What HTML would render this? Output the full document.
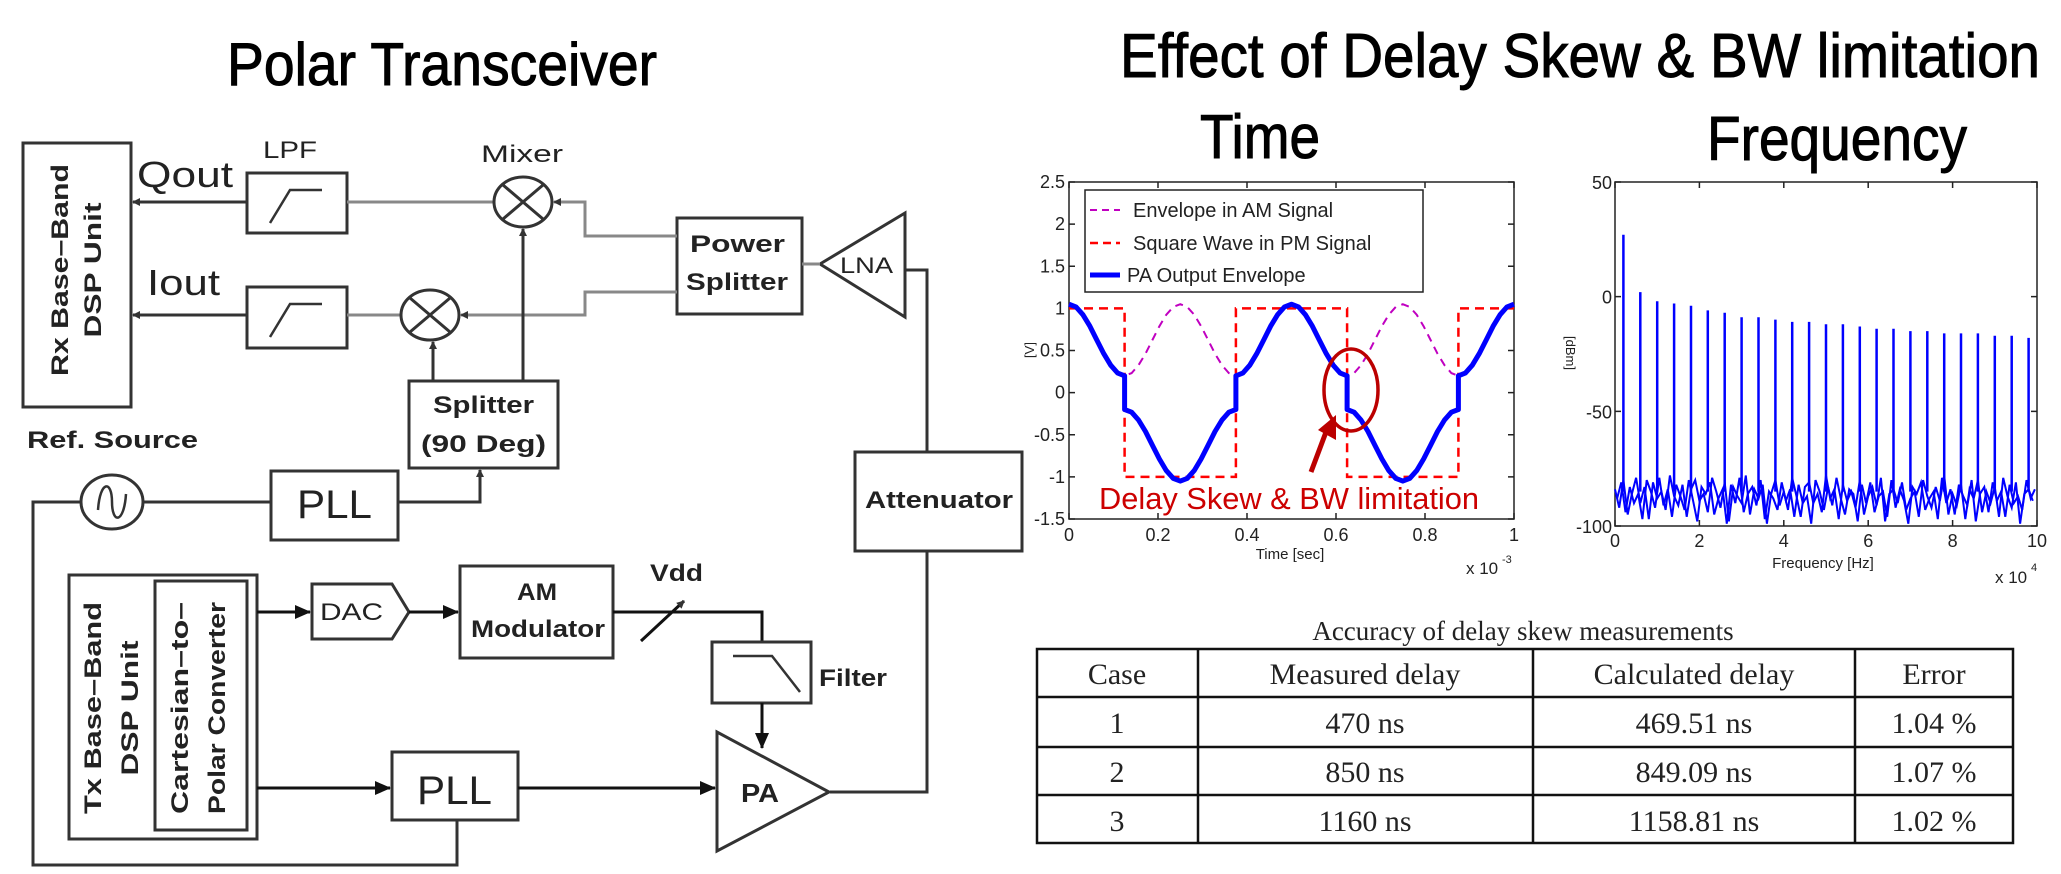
<!DOCTYPE html>
<html><head><meta charset="utf-8"><style>
html,body{margin:0;padding:0;background:#fff;}
svg{display:block;font-family:"Liberation Sans",Arial,sans-serif;}
</style></head><body>
<svg id="s" width="2061" height="874" viewBox="0 0 2061 874" xmlns="http://www.w3.org/2000/svg">
<defs>
<marker id="ah" markerWidth="8" markerHeight="8" refX="7" refY="4" orient="auto" markerUnits="userSpaceOnUse"><path d="M0,0 L8,4 L0,8 z" fill="#333"/></marker>
<marker id="ahb" markerWidth="16" markerHeight="14" refX="15" refY="7" orient="auto" markerUnits="userSpaceOnUse"><path d="M0,0 L16,7 L0,14 z" fill="#111"/></marker>
</defs>
<text x="227" y="85" font-size="60" textLength="430" lengthAdjust="spacingAndGlyphs" stroke="#000" stroke-width="1">Polar Transceiver</text>
<text x="1120" y="77" font-size="62" textLength="920" lengthAdjust="spacingAndGlyphs" stroke="#000" stroke-width="1">Effect of Delay Skew &amp; BW limitation</text>
<text x="1200" y="158" font-size="62" textLength="120" lengthAdjust="spacingAndGlyphs" stroke="#000" stroke-width="1">Time</text>
<text x="1707" y="160" font-size="62" textLength="260" lengthAdjust="spacingAndGlyphs" stroke="#000" stroke-width="1">Frequency</text>

<g fill="none" stroke="#333" stroke-width="3">
<rect x="23" y="143" width="108" height="264"/>
<rect x="247" y="173" width="100" height="60"/>
<path d="M270,223 L290,190 L322,190" stroke-width="2.5"/>
<rect x="247" y="287" width="100" height="61"/>
<path d="M270,337 L290,304 L322,304" stroke-width="2.5"/>
<path d="M247,202 L133,202" marker-end="url(#ah)"/>
<path d="M247,315 L133,315" marker-end="url(#ah)"/>
<path d="M347,202 L494,202" stroke="#888"/>
<path d="M347,315 L401,315" stroke="#888"/>
<ellipse cx="523" cy="202" rx="29" ry="25"/>
<path d="M503,185 L543,219 M543,185 L503,219"/>
<ellipse cx="430" cy="315" rx="29" ry="25"/>
<path d="M410,298 L450,332 M450,298 L410,332"/>
<rect x="677" y="218" width="125" height="96"/>
<path d="M677,236 L585,236 L585,202 L554,202" stroke="#888" marker-end="url(#ah)"/>
<path d="M677,292 L585,292 L585,315 L461,315" stroke="#888" marker-end="url(#ah)"/>
<path d="M820,264 L905,213 L905,317 Z"/>
<path d="M802,264 L820,264" stroke="#888"/>
<path d="M905,270 L927,270 L927,452"/>
<rect x="855" y="452" width="167" height="99"/>
<path d="M927,551 L927,792 L830,792"/>
<rect x="409" y="381" width="149" height="87"/>
<path d="M433,381 L433,342" marker-end="url(#ah)"/>
<path d="M523,381 L523,229" marker-end="url(#ah)"/>
<ellipse cx="112" cy="502" rx="31" ry="27"/>
<path d="M98,510 C100,480 112,480 112,502 C112,524 124,524 126,494" stroke-width="2.5"/>
<rect x="271" y="471" width="127" height="69"/>
<path d="M143,502 L271,502"/>
<path d="M398,502 L480,502 L480,470" marker-end="url(#ah)"/>
<path d="M81,502 L33,502 L33,865 L457,865 L457,820"/>
<rect x="69" y="575" width="188" height="264"/>
<rect x="155" y="581" width="92" height="249"/>
<path d="M312,584 L392,584 L409,612 L392,639 L312,639 Z"/>
<path d="M257,612 L310,612" stroke="#111" marker-end="url(#ahb)"/>
<path d="M409,612 L458,612" stroke="#111" marker-end="url(#ahb)"/>
<rect x="460" y="566" width="153" height="92"/>
<path d="M613,612 L762,612 L762,642" stroke="#111"/>
<path d="M641,641 L684,601" stroke="#111" marker-end="url(#ah)"/>
<rect x="712" y="642" width="99" height="61"/>
<path d="M733,656 L772,656 L800,692" stroke-width="2.5"/>
<path d="M762,703 L762,748" stroke="#111" marker-end="url(#ahb)"/>
<path d="M717,732 L717,851 L829,792 Z"/>
<rect x="392" y="752" width="126" height="68"/>
<path d="M257,788 L390,788" stroke="#111" marker-end="url(#ahb)"/>
<path d="M518,788 L715,788" stroke="#111" marker-end="url(#ahb)"/>
</g>
<g fill="#222">
<text x="137" y="187" font-size="36" textLength="96" lengthAdjust="spacingAndGlyphs">Qout</text>
<text x="263" y="158" font-size="24" textLength="54" lengthAdjust="spacingAndGlyphs">LPF</text>
<text x="481" y="162" font-size="24" textLength="82" lengthAdjust="spacingAndGlyphs">Mixer</text>
<text x="147" y="295" font-size="36" textLength="73" lengthAdjust="spacingAndGlyphs">Iout</text>
<text x="690" y="252" font-size="24" font-weight="bold" textLength="95" lengthAdjust="spacingAndGlyphs">Power</text>
<text x="686" y="290" font-size="24" font-weight="bold" textLength="102" lengthAdjust="spacingAndGlyphs">Splitter</text>
<text x="840" y="273" font-size="22" textLength="53" lengthAdjust="spacingAndGlyphs">LNA</text>
<text x="433" y="413" font-size="24" font-weight="bold" textLength="101" lengthAdjust="spacingAndGlyphs">Splitter</text>
<text x="421" y="452" font-size="24" font-weight="bold" textLength="125" lengthAdjust="spacingAndGlyphs">(90 Deg)</text>
<text x="27" y="448" font-size="24" font-weight="bold" textLength="171" lengthAdjust="spacingAndGlyphs">Ref. Source</text>
<text x="297" y="518" font-size="40" textLength="75" lengthAdjust="spacingAndGlyphs">PLL</text>
<text x="865" y="508" font-size="24" font-weight="bold" textLength="148" lengthAdjust="spacingAndGlyphs">Attenuator</text>
<text x="320" y="620" font-size="24" textLength="63" lengthAdjust="spacingAndGlyphs">DAC</text>
<text x="517" y="600" font-size="24" font-weight="bold" textLength="40" lengthAdjust="spacingAndGlyphs">AM</text>
<text x="471" y="637" font-size="24" font-weight="bold" textLength="134" lengthAdjust="spacingAndGlyphs">Modulator</text>
<text x="650" y="581" font-size="24" font-weight="bold" textLength="53" lengthAdjust="spacingAndGlyphs">Vdd</text>
<text x="819" y="686" font-size="24" font-weight="bold" textLength="68" lengthAdjust="spacingAndGlyphs">Filter</text>
<text x="741" y="802" font-size="26" font-weight="bold" textLength="38" lengthAdjust="spacingAndGlyphs">PA</text>
<text x="417" y="804" font-size="40" textLength="75" lengthAdjust="spacingAndGlyphs">PLL</text>
<g transform="translate(60,270) rotate(-90)"><text x="0" y="8" font-size="24" font-weight="bold" text-anchor="middle" textLength="212" lengthAdjust="spacingAndGlyphs">Rx Base–Band</text></g>
<g transform="translate(93,270) rotate(-90)"><text x="0" y="8" font-size="24" font-weight="bold" text-anchor="middle" textLength="135" lengthAdjust="spacingAndGlyphs">DSP Unit</text></g>
<g transform="translate(93,708) rotate(-90)"><text x="0" y="8" font-size="24" font-weight="bold" text-anchor="middle" textLength="212" lengthAdjust="spacingAndGlyphs">Tx Base–Band</text></g>
<g transform="translate(130,708) rotate(-90)"><text x="0" y="8" font-size="24" font-weight="bold" text-anchor="middle" textLength="135" lengthAdjust="spacingAndGlyphs">DSP Unit</text></g>
<g transform="translate(180,708) rotate(-90)"><text x="0" y="8" font-size="24" font-weight="bold" text-anchor="middle" textLength="212" lengthAdjust="spacingAndGlyphs">Cartesian–to–</text></g>
<g transform="translate(217,708) rotate(-90)"><text x="0" y="8" font-size="24" font-weight="bold" text-anchor="middle" textLength="212" lengthAdjust="spacingAndGlyphs">Polar Converter</text></g>
</g>

<g id="timeChart"></g>
<g id="freqChart"></g>

<g font-family="'Liberation Serif',serif" fill="#222">
<text x="1523" y="640" font-size="27" text-anchor="middle">Accuracy of delay skew measurements</text>
<g fill="none" stroke="#111" stroke-width="2.5">
<rect x="1037" y="649" width="976" height="194"/>
<path d="M1037,697 H2013 M1037,747 H2013 M1037,795 H2013 M1198,649 V843 M1533,649 V843 M1855,649 V843"/>
</g>
<g font-size="30" text-anchor="middle">
<text x="1117" y="684">Case</text>
<text x="1365" y="684">Measured delay</text>
<text x="1694" y="684">Calculated delay</text>
<text x="1934" y="684">Error</text>
<text x="1117" y="733">1</text>
<text x="1365" y="733">470 ns</text>
<text x="1694" y="733">469.51 ns</text>
<text x="1934" y="733">1.04 %</text>
<text x="1117" y="782">2</text>
<text x="1365" y="782">850 ns</text>
<text x="1694" y="782">849.09 ns</text>
<text x="1934" y="782">1.07 %</text>
<text x="1117" y="831">3</text>
<text x="1365" y="831">1160 ns</text>
<text x="1694" y="831">1158.81 ns</text>
<text x="1934" y="831">1.02 %</text>
</g>
</g>
</svg>
<script>
// ---- Time chart data (t in 1e-3 s) ----
const envTimes = [0,0.015625,0.03125,0.046875,0.0625,0.078125,0.09375,0.109375,0.125,0.140625,0.15625,0.171875,0.1875,0.203125,0.21875,0.234375,0.25,0.265625,0.28125,0.296875,0.3125,0.328125,0.34375,0.359375,0.375,0.390625,0.40625,0.421875,0.4375,0.453125,0.46875,0.484375,0.5,0.515625,0.53125,0.546875,0.5625,0.578125,0.59375,0.609375,0.625,0.640625,0.65625,0.671875,0.6875,0.703125,0.71875,0.734375,0.75,0.765625,0.78125,0.796875,0.8125,0.828125,0.84375,0.859375,0.875,0.890625,0.90625,0.921875,0.9375,0.953125,0.96875,0.984375,1];
const envValues = [1.05,1.018,0.925,0.788,0.625,0.462,0.325,0.232,0.2,0.232,0.325,0.462,0.625,0.788,0.925,1.018,1.05,1.018,0.925,0.788,0.625,0.462,0.325,0.232,0.2,0.232,0.325,0.462,0.625,0.788,0.925,1.018,1.05,1.018,0.925,0.788,0.625,0.462,0.325,0.232,0.2,0.232,0.325,0.462,0.625,0.788,0.925,1.018,1.05,1.018,0.925,0.788,0.625,0.462,0.325,0.232,0.2,0.232,0.325,0.462,0.625,0.788,0.925,1.018,1.05];
const sqTimes = [0,0.125,0.125,0.375,0.375,0.625,0.625,0.875,0.875,1];
const sqValues = [1,1,-1,-1,1,1,-1,-1,1,1];
const paTimes = [0,0.015625,0.03125,0.046875,0.0625,0.078125,0.09375,0.109375,0.125,0.125,0.140625,0.15625,0.171875,0.1875,0.203125,0.21875,0.234375,0.25,0.265625,0.28125,0.296875,0.3125,0.328125,0.34375,0.359375,0.375,0.375,0.390625,0.40625,0.421875,0.4375,0.453125,0.46875,0.484375,0.5,0.515625,0.53125,0.546875,0.5625,0.578125,0.59375,0.609375,0.625,0.625,0.640625,0.65625,0.671875,0.6875,0.703125,0.71875,0.734375,0.75,0.765625,0.78125,0.796875,0.8125,0.828125,0.84375,0.859375,0.875,0.875,0.890625,0.90625,0.921875,0.9375,0.953125,0.96875,0.984375,1];
const paValues = [1.05,1.018,0.925,0.788,0.625,0.462,0.325,0.232,0.2,-0.2,-0.232,-0.325,-0.462,-0.625,-0.788,-0.925,-1.018,-1.05,-1.018,-0.925,-0.788,-0.625,-0.462,-0.325,-0.232,-0.2,0.2,0.232,0.325,0.462,0.625,0.788,0.925,1.018,1.05,1.018,0.925,0.788,0.625,0.462,0.325,0.232,0.2,-0.2,-0.232,-0.325,-0.462,-0.625,-0.788,-0.925,-1.018,-1.05,-1.018,-0.925,-0.788,-0.625,-0.462,-0.325,-0.232,-0.2,0.2,0.232,0.325,0.462,0.625,0.788,0.925,1.018,1.05];
const timeYTicks = [-1.5,-1,-0.5,0,0.5,1,1.5,2,2.5];
const timeYLabels = ["-1.5","-1","-0.5","0","0.5","1","1.5","2","2.5"];
const timeXTicks = [0,0.2,0.4,0.6,0.8,1];
const timeXLabels = ["0","0.2","0.4","0.6","0.8","1"];
const legendLabels = ["Envelope in AM Signal","Square Wave in PM Signal","PA Output Envelope"];

// ---- Frequency chart data ----
const peakFreqs = [2000,6000,10000,14000,18000,22000,26000,30000,34000,38000,42000,46000,50000,54000,58000,62000,66000,70000,74000,78000,82000,86000,90000,94000,98000];
const peakDb = [27,2,-2,-3,-4,-6,-7,-9,-9,-10,-11,-11,-12,-12,-13,-14,-14,-15,-15,-16,-16,-16,-17,-17,-18];
const noiseDb = [-84,-92,-80,-95,-86,-79,-90,-83,-97,-81,-88,-85,-93,-78,-87,-91,-82,-96,-84,-80,-89,-86,-94,-79,-85,-92,-81,-98,-83,-87,-90,-78,-95,-84,-88,-82,-99,-86,-80,-91,-85,-93,-79,-87,-96,-83,-81,-90,-86,-94,-78,-88,-84,-97,-82,-89,-85,-92,-80,-95,-87,-83,-91,-79,-98,-86,-84,-90,-81,-93,-88,-85,-96,-80,-87,-92,-83,-89,-78,-95,-86,-91,-82,-97,-84,-88,-80,-94,-85,-90,-83,-96,-79,-87,-92,-81,-99,-86,-84,-89];
const noiseDb2 = [-88,-81,-94,-83,-90,-86,-97,-80,-85,-92,-79,-91,-84,-96,-82,-87,-93,-80,-89,-98,-83,-86,-81,-95,-88,-84,-99,-82,-90,-79,-94,-86,-83,-91,-80,-97,-85,-88,-93,-81,-89,-84,-96,-82,-90,-87,-99,-80,-85,-93,-83,-91,-79,-88,-95,-84,-86,-98,-82,-90,-81,-94,-87,-85,-96,-80,-92,-84,-89,-99,-83,-86,-81,-93,-88,-85,-97,-79,-90,-84,-95,-82,-87,-91,-80,-98,-86,-83,-94,-81,-89,-85,-96,-82,-90,-87,-93,-80,-88,-84];
const noiseStep = 1000;
const freqYTicks = [-100,-50,0,50];
const freqYLabels = ["-100","-50","0","50"];
const freqXTicks = [0,20000,40000,60000,80000,100000];
const freqXLabels = ["0","2","4","6","8","10"];

const NS = "http://www.w3.org/2000/svg";
function mk(parent, tag, attrs, txt){const e=document.createElementNS(NS,tag);for(const k in attrs)e.setAttribute(k,attrs[k]);if(txt!==undefined)e.textContent=txt;parent.appendChild(e);return e;}

const TX0=1069,TX1=1514,TY0=519,TY1=182;
const xT = t => TX0 + (t-0)/(1-0)*(TX1-TX0);
const yT = v => TY0 - (v-(-1.5))/(2.5-(-1.5))*(TY0-TY1);
const tg = document.getElementById('timeChart');
let e;
e = mk(tg,'rect',{x:TX0,y:TY1,width:TX1-TX0,height:TY0-TY1,fill:'#fff',stroke:'#222','stroke-width':1.5});


timeYTicks.forEach((v,i)=>{
  mk(tg,'path',{d:`M${TX0},${yT(v)} h6 M${TX1},${yT(v)} h-6`,stroke:'#222','stroke-width':1.5});
  e = mk(tg,'text',{x:TX0-4,y:yT(v)+6,'font-size':18,'text-anchor':'end',fill:'#222'},timeYLabels[i]);
  
  
});
timeXTicks.forEach((t,i)=>{
  mk(tg,'path',{d:`M${xT(t)},${TY0} v-6 M${xT(t)},${TY1} v6`,stroke:'#222','stroke-width':1.5});
  e = mk(tg,'text',{x:xT(t),y:541,'font-size':18,'text-anchor':'middle',fill:'#222'},timeXLabels[i]);
  
  
});
e = mk(tg,'text',{x:1290,y:559,'font-size':15,'text-anchor':'middle',fill:'#222'},'Time [sec]');


e = mk(tg,'text',{x:1466,y:574,'font-size':17,fill:'#222'},'x 10');


mk(tg,'text',{x:1502,y:563,'font-size':11,fill:'#222'},'-3');
e = mk(tg,'text',{x:0,y:0,'font-size':13,'text-anchor':'middle',fill:'#222',transform:`translate(1034,350) rotate(-90)`},'[V]');



function poly(ts,vs,fx,fy){return ts.map((t,i)=>(i?'L':'M')+fx(t).toFixed(1)+','+fy(vs[i]).toFixed(1)).join(' ');}
e = mk(tg,'path',{d:poly(envTimes,envValues,xT,yT),fill:'none',stroke:'#c000c0','stroke-width':2,'stroke-dasharray':'8,6'});


e = mk(tg,'path',{d:poly(sqTimes,sqValues,xT,yT),fill:'none',stroke:'#f00','stroke-width':2.5,'stroke-dasharray':'9,6'});


e = mk(tg,'path',{d:poly(paTimes,paValues,xT,yT),fill:'none',stroke:'#00f','stroke-width':5,'stroke-linejoin':'round'});



e = mk(tg,'rect',{x:1085,y:190,width:338,height:102,fill:'#fff',stroke:'#222','stroke-width':1.5});


const legStyles=[{stroke:'#c000c0',w:2,da:'7,5'},{stroke:'#f00',w:2.5,da:'8,5'},{stroke:'#00f',w:5,da:''}];
const legY=[210,243,275];
legendLabels.forEach((lab,i)=>{
  mk(tg,'path',{d:`M1090,${legY[i]} H1120`,stroke:legStyles[i].stroke,'stroke-width':legStyles[i].w,'stroke-dasharray':legStyles[i].da});
  e = mk(tg,'text',{x:i==2?1127:1133,y:legY[i]+7,'font-size':20,fill:'#222'},lab);
  
  
});
e = mk(tg,'ellipse',{cx:1351,cy:390,rx:27,ry:41,fill:'none',stroke:'#b00','stroke-width':3.5});


e = mk(tg,'path',{d:'M1311,472 L1326,432',stroke:'#b00','stroke-width':5});


mk(tg,'path',{d:'M1318,430 L1336,415 L1336,440 Z',fill:'#b00'});
e = mk(tg,'text',{x:1099,y:509,'font-size':31,fill:'#c00',textLength:380,lengthAdjust:'spacingAndGlyphs'},'Delay Skew & BW limitation');



const FX0=1615,FX1=2037,FY0=526,FY1=182;
const xF = f => FX0 + f/100000*(FX1-FX0);
const yF = d => FY0 - (d-(-100))/150*(FY0-FY1);
const fg = document.getElementById('freqChart');
e = mk(fg,'rect',{x:FX0,y:FY1,width:FX1-FX0,height:FY0-FY1,fill:'#fff',stroke:'#222','stroke-width':1.5});


freqYTicks.forEach((v,i)=>{
  mk(fg,'path',{d:`M${FX0},${yF(v)} h6 M${FX1},${yF(v)} h-6`,stroke:'#222','stroke-width':1.5});
  e = mk(fg,'text',{x:FX0-3,y:yF(v)+7,'font-size':18,'text-anchor':'end',fill:'#222'},freqYLabels[i]);
  
  
});
freqXTicks.forEach((f,i)=>{
  mk(fg,'path',{d:`M${xF(f)},${FY0} v-6 M${xF(f)},${FY1} v6`,stroke:'#222','stroke-width':1.5});
  e = mk(fg,'text',{x:xF(f),y:547,'font-size':18,'text-anchor':'middle',fill:'#222'},freqXLabels[i]);
  
  
});
e = mk(fg,'text',{x:1823,y:568,'font-size':15,'text-anchor':'middle',fill:'#222'},'Frequency [Hz]');


e = mk(fg,'text',{x:1995,y:583,'font-size':17,fill:'#222'},'x 10');


mk(fg,'text',{x:2031,y:571,'font-size':11,fill:'#222'},'4');
e = mk(fg,'text',{x:0,y:0,'font-size':13,'text-anchor':'middle',fill:'#222',transform:`translate(1566,353) rotate(90)`},'[dBm]');


e = mk(fg,'path',{d:poly(noiseDb.map((_,i)=>i*noiseStep),noiseDb,xF,yF),fill:'none',stroke:'#00f','stroke-width':2});


e = mk(fg,'path',{d:poly(noiseDb2.map((_,i)=>i*noiseStep+500),noiseDb2,xF,yF),fill:'none',stroke:'#00f','stroke-width':2});


peakFreqs.forEach((f,i)=>{
  e = mk(fg,'path',{d:`M${xF(f).toFixed(1)},${yF(-85)} V${yF(peakDb[i]).toFixed(1)}`,stroke:'#00f','stroke-width':2.5});
  
  
});
</script>
</body></html>
